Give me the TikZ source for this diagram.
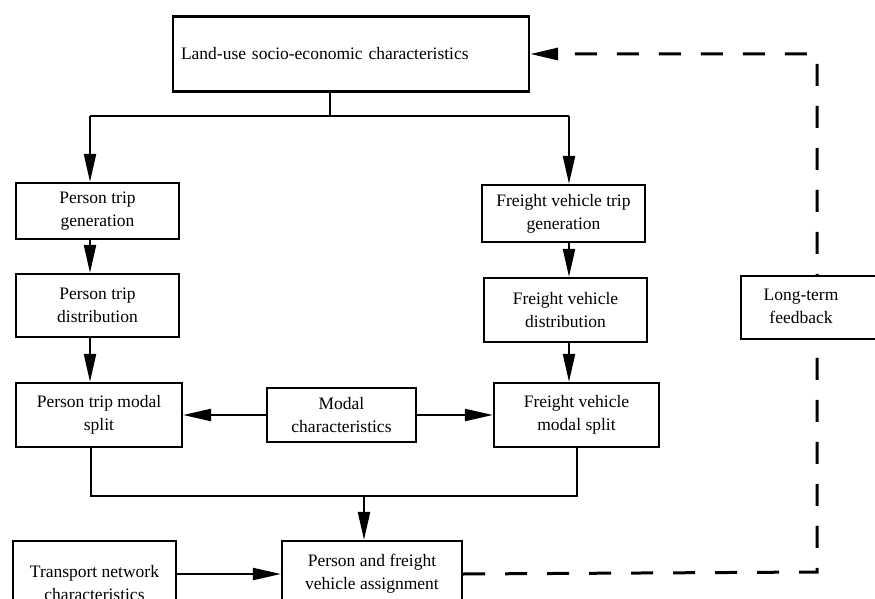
\documentclass[tikz,border=0pt]{standalone}
\usepackage{fontspec}
\setmainfont{Liberation Serif}
\usetikzlibrary{arrows.meta}

\begin{document}
\begin{tikzpicture}[x=1pt,y=-1pt]
        \useasboundingbox (0,0) rectangle (875,599);
        \begin{scope}[every node/.style={draw, line width=2.2pt, fill=white, align=center, inner sep=2pt, font=\fontsize{17.5}{23}\selectfont}]
                \node [text width=340pt, align=left, inner xsep=8pt, minimum height=75pt] (landuse) at (351,54) {Land-use socio-economic characteristics};
                \node [minimum width=163pt, minimum height=56pt] (ptgen) at (97.5,211) {Person trip\\generation};
                \node [minimum width=163pt, minimum height=57pt] (fgen) at (563.5,213.5) {Freight vehicle trip\\generation};
                \node [minimum width=163pt, minimum height=63pt] (pdist) at (97.5,305.5) {Person trip\\distribution};
                \node [minimum width=163pt, minimum height=64pt] (fdist) at (565.5,310) {Freight vehicle\\distribution};
                \node [minimum width=166pt, minimum height=64pt] (pmodal) at (99,415) {Person trip modal\\split};
                \node [minimum width=149pt, minimum height=54pt] (modal) at (341.5,415) {Modal\\characteristics};
                \node [minimum width=165pt, minimum height=64pt] (fmodal) at (576.5,415) {Freight vehicle\\modal split};
                \node [minimum width=180pt, minimum height=66pt] (assign) at (372,574) {Person and freight\\vehicle assignment};
                \node [minimum width=163pt, minimum height=84pt] (transport) at (94.5,583) {Transport network\\characteristics};
        \end{scope}

        \coordinate (split) at (330,116);
        \coordinate (lbr) at (90,116);
        \coordinate (rbr) at (569,116);
        \coordinate (lmerge) at (91,496);
        \coordinate (rmerge) at (577,496);
        \coordinate (merge) at (364,496);
        \coordinate (fbcorner) at (817,572);
        \coordinate (fbtop) at (817,54);

        \begin{scope}[every path/.style={line width=2.2pt, -{Triangle[length=28pt,width=12pt]}}]
                \path (lbr) edge (lbr |- ptgen.north);
                \path (rbr) edge (rbr |- fgen.north);
                \path (ptgen.south -| lbr) edge (pdist.north -| lbr);
                \path (pdist.south -| lbr) edge (pmodal.north -| lbr);
                \path (fgen.south -| rbr) edge (fdist.north -| rbr);
                \path (fdist.south -| rbr) edge (fmodal.north -| rbr);
                \path (modal) edge (pmodal);
                \path (modal) edge (fmodal);
                \path (merge) edge (merge |- assign.north);
                \path (transport.east |- assign.west) edge (assign.west);
        \end{scope}

        \draw [line width=2.2pt] (landuse.south -| split) -- (split);
        \draw [line width=2.2pt] (lbr) -- (rbr);
        \draw [line width=2.2pt] (pmodal.south -| lmerge) -- (lmerge) -- (rmerge) -- (fmodal.south -| rmerge);

        % long-term feedback loop
        \draw [line width=3pt, dash pattern=on 22pt off 20pt, -{Triangle[length=28pt,width=12pt]}] (assign.east) -- (fbcorner) -- (fbtop) -- (landuse.east);
        \node [draw, line width=2.2pt, fill=white, inner sep=2pt, minimum width=144pt, minimum height=63pt, font=\fontsize{17.5}{23}\selectfont] (feedback) at (813,307.5) {\begin{tabular}{@{}c@{\hspace{24pt}}}Long-term\\feedback\end{tabular}};
\end{tikzpicture}
\end{document}
